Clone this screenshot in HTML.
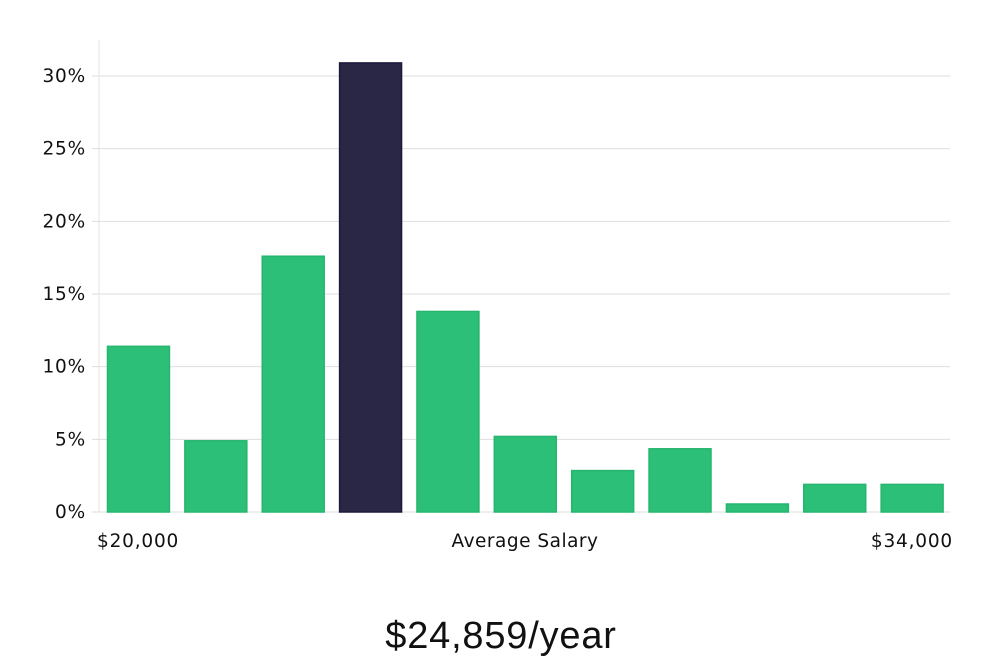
<!DOCTYPE html>
<html><head><meta charset="utf-8"><style>
body{margin:0;background:#fff;}
svg text{font-family:"DejaVu Sans","Liberation Sans",sans-serif;}
</style></head><body>
<svg id="chart" width="1000" height="660" xmlns="http://www.w3.org/2000/svg">
<g id="grid"></g>
<g id="bars"></g>
<g id="yticks"></g>
<line x1="99" y1="40" x2="99" y2="512" stroke="#e3e3e3" stroke-width="1"/>
<text x="97" y="547" font-size="18.5" letter-spacing="0.8" fill="#111">$20,000</text>
<text x="525" y="547" font-size="18.5" letter-spacing="0.5" fill="#111" text-anchor="middle">Average Salary</text>
<text x="953" y="547" font-size="18.5" letter-spacing="0.8" fill="#111" text-anchor="end">$34,000</text>
<text x="501" y="648" font-size="38" fill="#111" text-anchor="middle" style="font-family:'Liberation Sans Narrow','Liberation Sans',sans-serif" letter-spacing="0.8">$24,859/year</text>
</svg>
<script>
const values = [11.4, 4.9, 17.6, 30.9, 13.8, 5.2, 2.85, 4.35, 0.55, 1.9, 1.9];
const highlight = [false, false, false, true, false, false, false, false, false, false, false];
const yTicks = [0, 5, 10, 15, 20, 25, 30];
const yTickLabels = ["0%", "5%", "10%", "15%", "20%", "25%", "30%"];
const NS = "http://www.w3.org/2000/svg";
const x0 = 99, x1 = 950, yBase = 512, pxPerPct = (512 - 76) / 30;
const y = v => yBase - v * pxPerPct;
const slot = (x1 - x0) / values.length;
const xBar = i => x0 + i * slot + 8.5;
const grid = document.getElementById('grid'), yt = document.getElementById('yticks'), bars = document.getElementById('bars');
yTicks.forEach((t, i) => {
  const l = document.createElementNS(NS, 'line');
  
  
  l.setAttribute('x1', 92); l.setAttribute('x2', x1);
  l.setAttribute('y1', y(t)); l.setAttribute('y2', y(t));
  l.setAttribute('stroke', '#dedede'); l.setAttribute('stroke-width', '1');
  grid.appendChild(l);
  const tx = document.createElementNS(NS, 'text');
  
  
  tx.setAttribute('x', 86); tx.setAttribute('y', y(t) + 6);
  tx.setAttribute('text-anchor', 'end'); tx.setAttribute('font-size', '18.5'); tx.setAttribute('letter-spacing', '0.8'); tx.setAttribute('fill', '#111');
  tx.textContent = yTickLabels[i];
  yt.appendChild(tx);
});
values.forEach((v, i) => {
  const r = document.createElementNS(NS, 'rect');
  
  
  r.setAttribute('x', xBar(i)); r.setAttribute('y', y(v));
  r.setAttribute('width', slot - 15.4); r.setAttribute('height', yBase - y(v));
  r.setAttribute('fill', highlight[i] ? '#2a2746' : '#2bbf77');
  r.setAttribute('stroke', highlight[i] ? '#1c1a3a' : '#27b56f');
  r.setAttribute('stroke-width', '1.5');
  bars.appendChild(r);
});
</script>
</body></html>
